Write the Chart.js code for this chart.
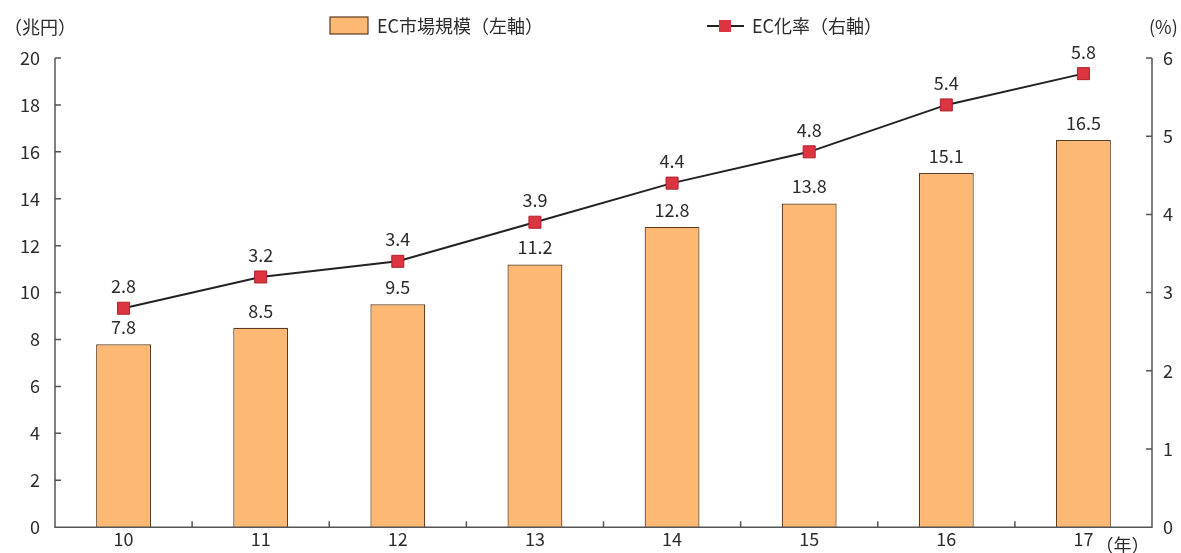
<!DOCTYPE html>
<html>
<head>
<meta charset="utf-8">
<script src="https://cdn.jsdelivr.net/npm/chart.js@4"></script>
<style>
  body { margin: 0; background: #fff; }
  #wrap { width: 1181px; height: 553px; }
</style>
</head>
<body>
<div id="wrap"><canvas id="ecChart" width="1181" height="553"></canvas></div>
<script>
const years = ["10", "11", "12", "13", "14", "15", "16", "17"];
const marketSize = [7.8, 8.5, 9.5, 11.2, 12.8, 13.8, 15.1, 16.5];
const ecRate = [2.8, 3.2, 3.4, 3.9, 4.4, 4.8, 5.4, 5.8];
const leftTicks = [0, 2, 4, 6, 8, 10, 12, 14, 16, 18, 20];
const rightTicks = [0, 1, 2, 3, 4, 5, 6];

const FONT = "'Noto Sans CJK JP', 'Noto Sans', sans-serif";
const TEXT = "#2b2b2b";
const AXIS = "#555";
const BAR_FILL = "#fdb874";
const BAR_EDGE = "#5c3b1c";
const MARK = "#dc3440";

// axis lines, inward ticks, value labels, unit labels and legend
const decorations = {
    id: "decorations",
    afterDatasetsDraw(chart) {
        const c = chart.ctx;
        const a = chart.chartArea;
        const x = chart.scales.x, y = chart.scales.y, y1 = chart.scales.y1;

        c.save();
        c.strokeStyle = AXIS;
        c.lineWidth = 1.5;
        c.beginPath();
        c.moveTo(a.left, a.top); c.lineTo(a.left, a.bottom); c.lineTo(a.right, a.bottom); c.lineTo(a.right, a.top);
        leftTicks.forEach(v => {
            const py = y.getPixelForValue(v);
            c.moveTo(a.left, py); c.lineTo(a.left + 6, py);
        });
        rightTicks.forEach(v => {
            const py = y1.getPixelForValue(v);
            c.moveTo(a.right, py); c.lineTo(a.right - 6, py);
        });
        for (let i = 1; i < years.length; i++) {
            const px = (x.getPixelForValue(i - 1) + x.getPixelForValue(i)) / 2;
            c.moveTo(px, a.bottom); c.lineTo(px, a.bottom - 6);
        }
        c.stroke();

        c.fillStyle = TEXT;
        c.font = "18px " + FONT;
        c.textAlign = "center";
        c.textBaseline = "alphabetic";
        // dataset 0 is the line, dataset 1 the bars
        chart.getDatasetMeta(1).data.forEach((bar, i) => {
            c.fillText(marketSize[i].toFixed(1), bar.x, bar.y - 10);
        });
        chart.getDatasetMeta(0).data.forEach((pt, i) => {
            c.fillText(ecRate[i].toFixed(1), pt.x, pt.y - 15);
        });

        c.textAlign = "left";
        c.fillText("（兆円）", 4, 34);
        c.fillText("(%)", 1149, 34);
        c.fillText("（年）", x.getPixelForValue(7) + 12, 552);

        // legend
        c.fillStyle = BAR_FILL;
        c.fillRect(330, 17, 38, 17);
        c.strokeStyle = BAR_EDGE;
        c.lineWidth = 1.2;
        c.strokeRect(330, 17, 38, 17);
        c.fillStyle = TEXT;
        c.fillText("EC市場規模（左軸）", 377, 33);

        c.strokeStyle = "#222";
        c.lineWidth = 2;
        c.beginPath();
        c.moveTo(707, 26); c.lineTo(744, 26);
        c.stroke();
        c.fillStyle = MARK;
        c.fillRect(719, 20, 12, 12);
        c.fillStyle = TEXT;
        c.fillText("EC化率（右軸）", 752, 33);
        c.restore();
    }
};

new Chart(document.getElementById("ecChart"), {
    data: {
        labels: years,
        datasets: [
            {
                type: "line",
                label: "EC化率（右軸）",
                data: ecRate,
                yAxisID: "y1",
                borderColor: "#222",
                borderWidth: 2,
                pointStyle: "rect",
                pointRadius: 8.5,
                pointBackgroundColor: MARK,
                pointBorderColor: "#b0202c",
                pointBorderWidth: 1,
                tension: 0,
                order: 0
            },
            {
                type: "bar",
                label: "EC市場規模（左軸）",
                data: marketSize,
                yAxisID: "y",
                backgroundColor: BAR_FILL,
                borderColor: BAR_EDGE,
                borderWidth: 1.2,
                barPercentage: 0.4,
                categoryPercentage: 1,
                order: 1
            }
        ]
    },
    options: {
        responsive: false,
        animation: false,
        layout: { padding: { top: 58, left: 0, right: 0, bottom: 0 } },
        plugins: {
            legend: { display: false },
            tooltip: { enabled: false }
        },
        scales: {
            x: {
                offset: true,
                grid: { display: false, drawTicks: false },
                border: { display: false },
                ticks: { color: TEXT, font: { family: FONT, size: 18 }, padding: 1, maxRotation: 0 },
                afterFit: s => { s.height = 25; }
            },
            y: {
                position: "left",
                min: 0, max: 20,
                grid: { display: false, drawTicks: false },
                border: { display: false },
                ticks: { stepSize: 2, color: TEXT, font: { family: FONT, size: 18 }, padding: 15 },
                afterFit: s => { s.width = 55; }
            },
            y1: {
                position: "right",
                min: 0, max: 6,
                grid: { display: false, drawTicks: false },
                border: { display: false },
                ticks: { stepSize: 1, color: TEXT, font: { family: FONT, size: 18 }, padding: 11 },
                afterFit: s => { s.width = 29; }
            }
        }
    },
    plugins: [decorations]
});
</script>
</body>
</html>
